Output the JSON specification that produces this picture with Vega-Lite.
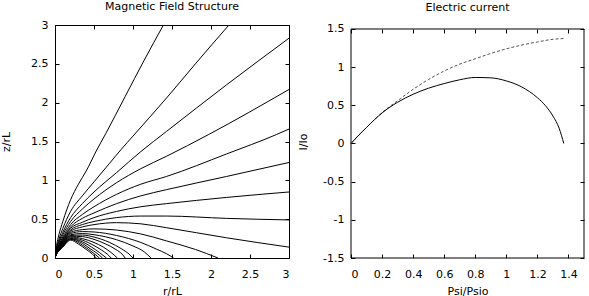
{
"$schema": "https://vega.github.io/schema/vega-lite/v6.json",
"padding": {"left": 0, "top": 0, "right": 0, "bottom": 0},
"spacing": 4,
"config": {
  "font": "DejaVu Sans",
  "view": {"stroke": "black", "strokeWidth": 1},
  "axis": {"labelFont": "DejaVu Sans", "labelFontSize": 11, "labelColor": "black", "titleFont": "DejaVu Sans", "titleFontSize": 11, "titleFontWeight": "normal", "titleColor": "black", "grid": false, "domain": false, "tickColor": "black", "tickSize": -4, "tickWidth": 1},
  "axisX": {"labelPadding": 14.5, "titlePadding": 6},
  "axisY": {"labelPadding": 11},
  "title": {"font": "DejaVu Sans", "fontSize": 11, "fontWeight": "normal", "color": "black", "anchor": "middle", "frame": "group"}
},
"datasets": {
"field": [
{"l":"A","i":0,"r":0,"z":0},{"l":"A","i":1,"r":0.02,"z":0.16},{"l":"A","i":2,"r":0.05,"z":0.3},{"l":"A","i":3,"r":0.1,"z":0.47},{"l":"A","i":4,"r":0.2,"z":0.75},{"l":"A","i":5,"r":0.3,"z":0.95},{"l":"A","i":6,"r":0.4,"z":1.12},{"l":"A","i":7,"r":0.53,"z":1.38},{"l":"A","i":8,"r":0.65,"z":1.6},{"l":"A","i":9,"r":0.9,"z":2.08},{"l":"A","i":10,"r":1.14,"z":2.54},{"l":"A","i":11,"r":1.39,"z":3.0},
{"l":"B","i":0,"r":0,"z":0},{"l":"B","i":1,"r":0.02,"z":0.13},{"l":"B","i":2,"r":0.05,"z":0.24},{"l":"B","i":3,"r":0.1,"z":0.38},{"l":"B","i":4,"r":0.2,"z":0.6},{"l":"B","i":5,"r":0.35,"z":0.8},{"l":"B","i":6,"r":0.5,"z":0.98},{"l":"B","i":7,"r":0.7,"z":1.22},{"l":"B","i":8,"r":0.85,"z":1.4},{"l":"B","i":9,"r":1.0,"z":1.57},{"l":"B","i":10,"r":1.43,"z":2.06},{"l":"B","i":11,"r":1.8,"z":2.5},{"l":"B","i":12,"r":2.23,"z":3.0},
{"l":"C","i":0,"r":0,"z":0},{"l":"C","i":1,"r":0.02,"z":0.11},{"l":"C","i":2,"r":0.05,"z":0.21},{"l":"C","i":3,"r":0.1,"z":0.33},{"l":"C","i":4,"r":0.2,"z":0.52},{"l":"C","i":5,"r":0.35,"z":0.7},{"l":"C","i":6,"r":0.5,"z":0.85},{"l":"C","i":7,"r":0.79,"z":1.1},{"l":"C","i":8,"r":1.1,"z":1.37},{"l":"C","i":9,"r":1.43,"z":1.63},{"l":"C","i":10,"r":2.2,"z":2.23},{"l":"C","i":11,"r":3,"z":2.83},
{"l":"D","i":0,"r":0,"z":0},{"l":"D","i":1,"r":0.02,"z":0.1},{"l":"D","i":2,"r":0.05,"z":0.19},{"l":"D","i":3,"r":0.1,"z":0.3},{"l":"D","i":4,"r":0.2,"z":0.47},{"l":"D","i":5,"r":0.35,"z":0.63},{"l":"D","i":6,"r":0.5,"z":0.76},{"l":"D","i":7,"r":0.79,"z":0.97},{"l":"D","i":8,"r":1.1,"z":1.15},{"l":"D","i":9,"r":1.43,"z":1.31},{"l":"D","i":10,"r":1.97,"z":1.59},{"l":"D","i":11,"r":3,"z":2.17},
{"l":"E","i":0,"r":0,"z":0},{"l":"E","i":1,"r":0.02,"z":0.093},{"l":"E","i":2,"r":0.05,"z":0.17},{"l":"E","i":3,"r":0.1,"z":0.27},{"l":"E","i":4,"r":0.2,"z":0.43},{"l":"E","i":5,"r":0.35,"z":0.56},{"l":"E","i":6,"r":0.5,"z":0.66},{"l":"E","i":7,"r":0.79,"z":0.82},{"l":"E","i":8,"r":1.1,"z":0.95},{"l":"E","i":9,"r":1.43,"z":1.05},{"l":"E","i":10,"r":2.2,"z":1.34},{"l":"E","i":11,"r":2.84,"z":1.59},{"l":"E","i":12,"r":3,"z":1.66},
{"l":"F","i":0,"r":0,"z":0},{"l":"F","i":1,"r":0.02,"z":0.086},{"l":"F","i":2,"r":0.05,"z":0.16},{"l":"F","i":3,"r":0.1,"z":0.25},{"l":"F","i":4,"r":0.2,"z":0.4},{"l":"F","i":5,"r":0.35,"z":0.51},{"l":"F","i":6,"r":0.5,"z":0.58},{"l":"F","i":7,"r":0.79,"z":0.7},{"l":"F","i":8,"r":1.1,"z":0.8},{"l":"F","i":9,"r":1.43,"z":0.88},{"l":"F","i":10,"r":2.2,"z":1.05},{"l":"F","i":11,"r":3,"z":1.23},
{"l":"G","i":0,"r":0,"z":0},{"l":"G","i":1,"r":0.02,"z":0.082},{"l":"G","i":2,"r":0.05,"z":0.15},{"l":"G","i":3,"r":0.1,"z":0.24},{"l":"G","i":4,"r":0.2,"z":0.38},{"l":"G","i":5,"r":0.35,"z":0.46},{"l":"G","i":6,"r":0.5,"z":0.52},{"l":"G","i":7,"r":0.79,"z":0.6},{"l":"G","i":8,"r":1.1,"z":0.66},{"l":"G","i":9,"r":1.43,"z":0.7},{"l":"G","i":10,"r":2.2,"z":0.78},{"l":"G","i":11,"r":3,"z":0.85},
{"l":"H","i":0,"r":0,"z":0},{"l":"H","i":1,"r":0.02,"z":0.077},{"l":"H","i":2,"r":0.05,"z":0.143},{"l":"H","i":3,"r":0.1,"z":0.227},{"l":"H","i":4,"r":0.2,"z":0.36},{"l":"H","i":5,"r":0.35,"z":0.43},{"l":"H","i":6,"r":0.5,"z":0.47},{"l":"H","i":7,"r":0.79,"z":0.52},{"l":"H","i":8,"r":1.1,"z":0.54},{"l":"H","i":9,"r":1.43,"z":0.54},{"l":"H","i":10,"r":2.2,"z":0.51},{"l":"H","i":11,"r":3,"z":0.49},
{"l":"I","i":0,"r":0,"z":0},{"l":"I","i":1,"r":0.02,"z":0.074},{"l":"I","i":2,"r":0.05,"z":0.137},{"l":"I","i":3,"r":0.1,"z":0.217},{"l":"I","i":4,"r":0.2,"z":0.345},{"l":"I","i":5,"r":0.35,"z":0.4},{"l":"I","i":6,"r":0.5,"z":0.43},{"l":"I","i":7,"r":0.79,"z":0.455},{"l":"I","i":8,"r":1.1,"z":0.44},{"l":"I","i":9,"r":1.43,"z":0.39},{"l":"I","i":10,"r":2.2,"z":0.26},{"l":"I","i":11,"r":3,"z":0.14},
{"l":"J","i":0,"r":0,"z":0},{"l":"J","i":1,"r":0.02,"z":0.071},{"l":"J","i":2,"r":0.05,"z":0.131},{"l":"J","i":3,"r":0.1,"z":0.208},{"l":"J","i":4,"r":0.2,"z":0.33},{"l":"J","i":5,"r":0.35,"z":0.365},{"l":"J","i":6,"r":0.5,"z":0.375},{"l":"J","i":7,"r":0.79,"z":0.36},{"l":"J","i":8,"r":1.1,"z":0.31},{"l":"J","i":9,"r":1.43,"z":0.22},{"l":"J","i":10,"r":1.8,"z":0.11},{"l":"J","i":11,"r":2.09,"z":0},
{"l":"K","i":0,"r":0,"z":0},{"l":"K","i":1,"r":0.02,"z":0.068},{"l":"K","i":2,"r":0.05,"z":0.125},{"l":"K","i":3,"r":0.1,"z":0.198},{"l":"K","i":4,"r":0.2,"z":0.315},{"l":"K","i":5,"r":0.35,"z":0.34},{"l":"K","i":6,"r":0.5,"z":0.335},{"l":"K","i":7,"r":0.79,"z":0.29},{"l":"K","i":8,"r":1.1,"z":0.2},{"l":"K","i":9,"r":1.3,"z":0.115},{"l":"K","i":10,"r":1.43,"z":0.055},{"l":"K","i":11,"r":1.52,"z":0},
{"l":"L","i":0,"r":0,"z":0},{"l":"L","i":1,"r":0.02,"z":0.065},{"l":"L","i":2,"r":0.05,"z":0.119},{"l":"L","i":3,"r":0.1,"z":0.189},{"l":"L","i":4,"r":0.2,"z":0.3},{"l":"L","i":5,"r":0.35,"z":0.315},{"l":"L","i":6,"r":0.5,"z":0.3},{"l":"L","i":7,"r":0.79,"z":0.235},{"l":"L","i":8,"r":1.0,"z":0.155},{"l":"L","i":9,"r":1.15,"z":0.075},{"l":"L","i":10,"r":1.23,"z":0},
{"l":"M","i":0,"r":0,"z":0},{"l":"M","i":1,"r":0.02,"z":0.062},{"l":"M","i":2,"r":0.05,"z":0.115},{"l":"M","i":3,"r":0.1,"z":0.182},{"l":"M","i":4,"r":0.2,"z":0.29},{"l":"M","i":5,"r":0.35,"z":0.295},{"l":"M","i":6,"r":0.5,"z":0.27},{"l":"M","i":7,"r":0.7,"z":0.2},{"l":"M","i":8,"r":0.85,"z":0.12},{"l":"M","i":9,"r":0.95,"z":0.05},{"l":"M","i":10,"r":1.0,"z":0},
{"l":"N","i":0,"r":0,"z":0},{"l":"N","i":1,"r":0.02,"z":0.06},{"l":"N","i":2,"r":0.05,"z":0.11},{"l":"N","i":3,"r":0.1,"z":0.175},{"l":"N","i":4,"r":0.2,"z":0.28},{"l":"N","i":5,"r":0.35,"z":0.275},{"l":"N","i":6,"r":0.5,"z":0.24},{"l":"N","i":7,"r":0.65,"z":0.18},{"l":"N","i":8,"r":0.78,"z":0.11},{"l":"N","i":9,"r":0.86,"z":0.05},{"l":"N","i":10,"r":0.9,"z":0},
{"l":"O","i":0,"r":0,"z":0},{"l":"O","i":1,"r":0.02,"z":0.058},{"l":"O","i":2,"r":0.05,"z":0.106},{"l":"O","i":3,"r":0.1,"z":0.168},{"l":"O","i":4,"r":0.2,"z":0.27},{"l":"O","i":5,"r":0.35,"z":0.25},{"l":"O","i":6,"r":0.5,"z":0.2},{"l":"O","i":7,"r":0.62,"z":0.14},{"l":"O","i":8,"r":0.72,"z":0.07},{"l":"O","i":9,"r":0.8,"z":0},
{"l":"P","i":0,"r":0,"z":0},{"l":"P","i":1,"r":0.02,"z":0.056},{"l":"P","i":2,"r":0.05,"z":0.102},{"l":"P","i":3,"r":0.1,"z":0.162},{"l":"P","i":4,"r":0.2,"z":0.26},{"l":"P","i":5,"r":0.35,"z":0.23},{"l":"P","i":6,"r":0.5,"z":0.16},{"l":"P","i":7,"r":0.6,"z":0.1},{"l":"P","i":8,"r":0.67,"z":0.05},{"l":"P","i":9,"r":0.72,"z":0},
{"l":"Q","i":0,"r":0,"z":0},{"l":"Q","i":1,"r":0.02,"z":0.054},{"l":"Q","i":2,"r":0.05,"z":0.098},{"l":"Q","i":3,"r":0.1,"z":0.157},{"l":"Q","i":4,"r":0.2,"z":0.25},{"l":"Q","i":5,"r":0.35,"z":0.21},{"l":"Q","i":6,"r":0.47,"z":0.14},{"l":"Q","i":7,"r":0.57,"z":0.07},{"l":"Q","i":8,"r":0.66,"z":0},
{"l":"R","i":0,"r":0,"z":0},{"l":"R","i":1,"r":0.02,"z":0.052},{"l":"R","i":2,"r":0.05,"z":0.095},{"l":"R","i":3,"r":0.1,"z":0.152},{"l":"R","i":4,"r":0.2,"z":0.245},{"l":"R","i":5,"r":0.35,"z":0.19},{"l":"R","i":6,"r":0.45,"z":0.12},{"l":"R","i":7,"r":0.54,"z":0.06},{"l":"R","i":8,"r":0.61,"z":0},
{"l":"S","i":0,"r":0,"z":0},{"l":"S","i":1,"r":0.02,"z":0.051},{"l":"S","i":2,"r":0.05,"z":0.092},{"l":"S","i":3,"r":0.1,"z":0.147},{"l":"S","i":4,"r":0.2,"z":0.24},{"l":"S","i":5,"r":0.33,"z":0.18},{"l":"S","i":6,"r":0.43,"z":0.11},{"l":"S","i":7,"r":0.51,"z":0.05},{"l":"S","i":8,"r":0.57,"z":0},
{"l":"T","i":0,"r":0,"z":0},{"l":"T","i":1,"r":0.02,"z":0.05},{"l":"T","i":2,"r":0.05,"z":0.09},{"l":"T","i":3,"r":0.1,"z":0.14},{"l":"T","i":4,"r":0.2,"z":0.23},{"l":"T","i":5,"r":0.3,"z":0.18},{"l":"T","i":6,"r":0.4,"z":0.11},{"l":"T","i":7,"r":0.48,"z":0.05},{"l":"T","i":8,"r":0.53,"z":0}
],
"solid": [
{"psi":0,"I":0},{"psi":0.05,"I":0.11},{"psi":0.1,"I":0.21},{"psi":0.15,"I":0.31},{"psi":0.2,"I":0.4},{"psi":0.3,"I":0.54},{"psi":0.4,"I":0.645},{"psi":0.5,"I":0.725},{"psi":0.6,"I":0.785},{"psi":0.7,"I":0.835},{"psi":0.8,"I":0.865},{"psi":0.9,"I":0.86},{"psi":1.0,"I":0.82},{"psi":1.1,"I":0.74},{"psi":1.2,"I":0.6},{"psi":1.25,"I":0.5},{"psi":1.3,"I":0.36},{"psi":1.34,"I":0.2},{"psi":1.37,"I":0}
],
"dashed": [
{"psi":0,"I":0},{"psi":0.1,"I":0.21},{"psi":0.2,"I":0.405},{"psi":0.3,"I":0.56},{"psi":0.4,"I":0.71},{"psi":0.5,"I":0.84},{"psi":0.6,"I":0.95},{"psi":0.7,"I":1.04},{"psi":0.8,"I":1.11},{"psi":0.9,"I":1.18},{"psi":1.0,"I":1.24},{"psi":1.1,"I":1.29},{"psi":1.2,"I":1.33},{"psi":1.3,"I":1.365},{"psi":1.37,"I":1.375}
],
"blank": [{"a": 0}]
},
"hconcat": [
{
 "width": 234, "height": 233,
 "title": {"text": "Magnetic Field Structure", "offset": 7.5},
 "layer": [
  {"data": {"name": "field"}, "mark": {"type": "line", "color": "black", "strokeWidth": 1, "interpolate": "monotone", "clip": true},
   "encoding": {
     "x": {"field": "r", "type": "quantitative", "scale": {"domain": [0, 3], "nice": false, "zero": false}, "axis": {"values": [0, 0.5, 1, 1.5, 2, 2.5, 3], "labelExpr": "'' + datum.value", "title": "r/rL"}},
     "y": {"field": "z", "type": "quantitative", "scale": {"domain": [0, 3], "nice": false, "zero": false}, "axis": {"values": [0, 0.5, 1, 1.5, 2, 2.5, 3], "labelExpr": "'' + datum.value", "title": "z/rL", "titlePadding": 19}},
     "detail": {"field": "l"},
     "order": {"field": "i"}
   }},
  {"data": {"name": "field"}, "mark": {"type": "point", "opacity": 0},
   "encoding": {
     "x": {"field": "r", "type": "quantitative", "axis": {"orient": "top", "values": [0, 0.5, 1, 1.5, 2, 2.5, 3], "labels": false, "title": null}},
     "y": {"field": "z", "type": "quantitative", "axis": {"orient": "right", "values": [0, 0.5, 1, 1.5, 2, 2.5, 3], "labels": false, "title": null}}
   }}
 ],
 "resolve": {"axis": {"x": "independent", "y": "independent"}}
},
{
 "width": 233, "height": 233,
 "view": {"stroke": null},
 "title": {"text": "Electric current", "offset": 10},
 "layer": [
  {"data": {"name": "dashed"}, "mark": {"type": "line", "color": "#555555", "strokeWidth": 1, "strokeDash": [3, 2], "interpolate": "monotone"},
   "encoding": {
     "x": {"field": "psi", "type": "quantitative", "scale": {"domain": [0, 1.5], "nice": false, "zero": false}, "axis": {"values": [0, 0.2, 0.4, 0.6, 0.8, 1, 1.2, 1.4], "labelExpr": "'' + datum.value", "title": "Psi/Psio"}},
     "y": {"field": "I", "type": "quantitative", "scale": {"domain": [-1.5, 1.5524], "nice": false, "zero": false}, "axis": {"values": [-1.5, -1, -0.5, 0, 0.5, 1, 1.5], "labelExpr": "'' + datum.value", "title": "I/Io", "titlePadding": 14}}
   }},
  {"data": {"name": "solid"}, "mark": {"type": "point", "opacity": 0},
   "encoding": {
     "x": {"field": "psi", "type": "quantitative", "axis": {"orient": "top", "offset": -4, "values": [0, 0.2, 0.4, 0.6, 0.8, 1, 1.2, 1.4], "labels": false, "title": null}},
     "y": {"field": "I", "type": "quantitative", "axis": {"orient": "right", "values": [-1.5, -1, -0.5, 0, 0.5, 1, 1.5], "labels": false, "title": null}}
   }},
  {"data": {"name": "blank"}, "mark": {"type": "rect", "filled": false, "color": "black", "strokeWidth": 1},
   "encoding": {
     "x": {"datum": 0, "type": "quantitative", "axis": null},
     "x2": {"datum": 1.5},
     "y": {"datum": -1.5, "type": "quantitative", "axis": null},
     "y2": {"datum": 1.5}
   }},
  {"data": {"name": "solid"}, "mark": {"type": "line", "color": "black", "strokeWidth": 1, "interpolate": "monotone"},
   "encoding": {
     "x": {"field": "psi", "type": "quantitative", "axis": null},
     "y": {"field": "I", "type": "quantitative", "axis": null}
   }}
 ],
 "resolve": {"axis": {"x": "independent", "y": "independent"}}
}
]
}
